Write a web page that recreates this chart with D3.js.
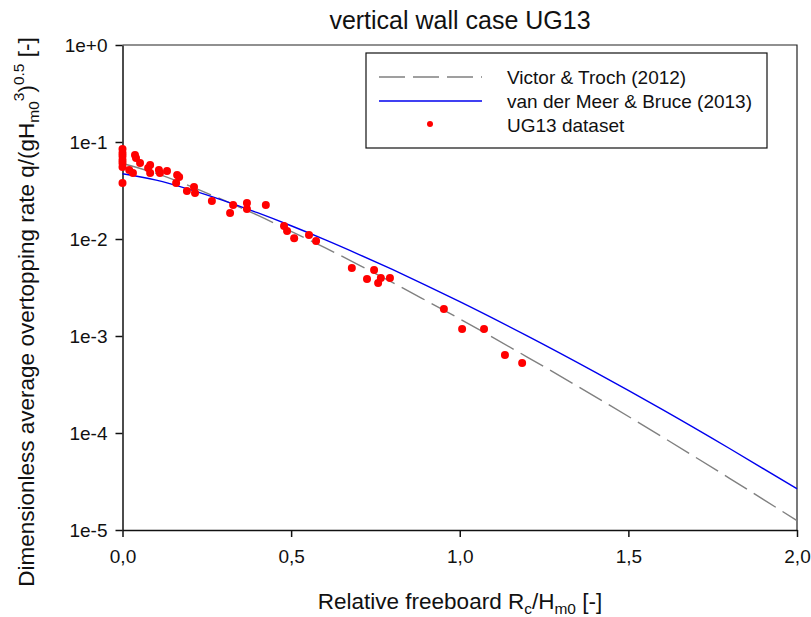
<!DOCTYPE html>
<html><head><meta charset="utf-8">
<script src="https://cdn.jsdelivr.net/npm/d3@7"></script>
<style>body{margin:0;background:#fff}svg{display:block;font-family:"Liberation Sans",Arial,sans-serif}</style>
</head><body><svg id="c" width="811" height="617"></svg>
<script>
// Data
const dataRc = [0,0,0,0,0,0,0,0.02,0.031,0.037,0.04,0.052,0.082,0.076,0.082,0.108,0.111,0.132,0.162,0.168,0.159,0.191,0.212,0.215,0.265,0.328,0.319,0.369,0.369,0.425,0.479,0.488,0.509,0.553,0.574,0.680,0.746,0.725,0.766,0.758,0.793,0.953,1.007,1.072,1.134,1.185];
const dataQ  = [0.0847,0.0770,0.0717,0.0652,0.0608,0.0552,0.0378,0.0514,0.0479,0.0734,0.0684,0.0608,0.0579,0.0540,0.0479,0.0514,0.0479,0.0502,0.0457,0.0436,0.0378,0.0313,0.0344,0.0298,0.0246,0.0224,0.0185,0.0235,0.0204,0.0224,0.0136,0.0121,0.0102,0.0110,0.00953,0.00502,0.00479,0.00387,0.00396,0.00352,0.00396,0.00190,0.00118,0.00118,0.000637,0.000527];
const curveRc = [0,0.1,0.2,0.3,0.4,0.5,0.6,0.7,0.8,0.9,1.0,1.2,1.4,1.6,1.8,2.0];
const victorQ = [0.060,0.0475,0.0351,0.0251,0.0176,0.0120,0.00813,0.00542,0.00357,0.00232,0.00150,0.000607,0.000239,0.0000914,0.0000341,0.0000125];
const meerQ   = [0.047,0.0404,0.0323,0.0249,0.01868,0.0137,0.00985,0.00696,0.00485,0.00333,0.002258,0.001001,0.000426,0.000175,0.0000692,0.0000266];
const xTicks = [0,0.5,1.0,1.5,2.0];
const yTicks = [1,1e-1,1e-2,1e-3,1e-4,1e-5];
const yTickLabels = ["1e+0","1e-1","1e-2","1e-3","1e-4","1e-5"];
const legendLabels = ["Victor & Troch (2012)","van der Meer & Bruce (2013)","UG13 dataset"];

const svg = d3.select("#c");
const L=122.5, R=797, T=45, B=530;
const x = d3.scaleLinear().domain([0,2]).range([L,R]);
const y = d3.scaleLog().domain([1e-5,1]).range([B,T]);

// frame top/right
svg.append("path").attr("d",`M${L},${T}H${R}V${B}`).attr("fill","none").attr("stroke","#222").attr("stroke-width",1.2);

const xAxis = svg.append("g").attr("transform",`translate(0,${B})`)
  .call(d3.axisBottom(x).tickValues(xTicks).tickSize(7).tickSizeOuter(0).tickPadding(13)
    .tickFormat(d=>d3.format(".1f")(d).replace(".",",")));
const yAxis = svg.append("g").attr("transform",`translate(${L},0)`)
  .call(d3.axisLeft(y).tickValues(yTicks).tickSize(7).tickSizeOuter(0).tickPadding(8)
    .tickFormat((d,i)=>yTickLabels[i]));
[xAxis,yAxis].forEach(a=>{
  a.selectAll("path,line").attr("stroke","#111").attr("stroke-width",1.5);
  a.selectAll("text").attr("font-size",19).attr("fill","#111").attr("font-family","Liberation Sans, Arial, sans-serif");
});

const line = d3.line().x((d,i)=>x(curveRc[i])).y(d=>y(d)).curve(d3.curveMonotoneX);
svg.append("path").datum(victorQ).attr("d",line).attr("fill","none").attr("stroke","#808080").attr("stroke-width",1.4).attr("stroke-dasharray","26,8");
svg.append("path").datum(meerQ).attr("d",line).attr("fill","none").attr("stroke","#0000ee").attr("stroke-width",1.4);

svg.append("g").selectAll("circle").data(dataQ).join("circle")
  .attr("cx",(d,i)=>x(dataRc[i])).attr("cy",d=>y(d)).attr("r",4).attr("fill","#ff0000");

// title
svg.append("text").attr("x",460).attr("y",29).attr("text-anchor","middle").attr("font-size",25).attr("fill","#111").text("vertical wall case UG13");

// x label
const xl = svg.append("text").attr("x",460).attr("y",609).attr("text-anchor","middle").attr("font-size",22.5).attr("fill","#111");
xl.append("tspan").text("Relative freeboard R");
xl.append("tspan").attr("font-size",15.5).attr("dy",5).text("c");
xl.append("tspan").attr("dy",-5).text("/H");
xl.append("tspan").attr("font-size",15.5).attr("dy",5).text("m0");
xl.append("tspan").attr("dy",-5).text(" [-]");

// y label
const yl = svg.append("text").attr("transform","translate(34,312) rotate(-90)").attr("text-anchor","middle").attr("font-size",22.5).attr("fill","#111");
yl.append("tspan").text("Dimensionless average overtopping rate q/(gH");
yl.append("tspan").attr("font-size",15.5).attr("dy",5).text("m0");
yl.append("tspan").attr("font-size",15.5).attr("dy",-15).text("3");
yl.append("tspan").attr("dy",10).text(")");
yl.append("tspan").attr("font-size",15.5).attr("dy",-10).text("0.5");
yl.append("tspan").attr("dy",10).text(" [-]");

// legend
const lg = svg.append("g");
lg.append("rect").attr("x",366).attr("y",53).attr("width",401).attr("height",95).attr("fill","#fff").attr("stroke","#111").attr("stroke-width",1.2);
const rows=[77,101,125];
lg.append("line").attr("x1",379).attr("x2",482).attr("y1",rows[0]).attr("y2",rows[0]).attr("stroke","#808080").attr("stroke-width",1.4).attr("stroke-dasharray","26,8");
lg.append("line").attr("x1",379).attr("x2",482).attr("y1",rows[1]).attr("y2",rows[1]).attr("stroke","#0000ee").attr("stroke-width",1.4);
lg.append("circle").attr("cx",430).attr("cy",rows[2]-1).attr("r",3).attr("fill","#ff0000");
legendLabels.forEach((t,i)=>lg.append("text").attr("x",507).attr("y",rows[i]+7).attr("font-size",19).attr("fill","#111").text(t));
</script></body></html>
